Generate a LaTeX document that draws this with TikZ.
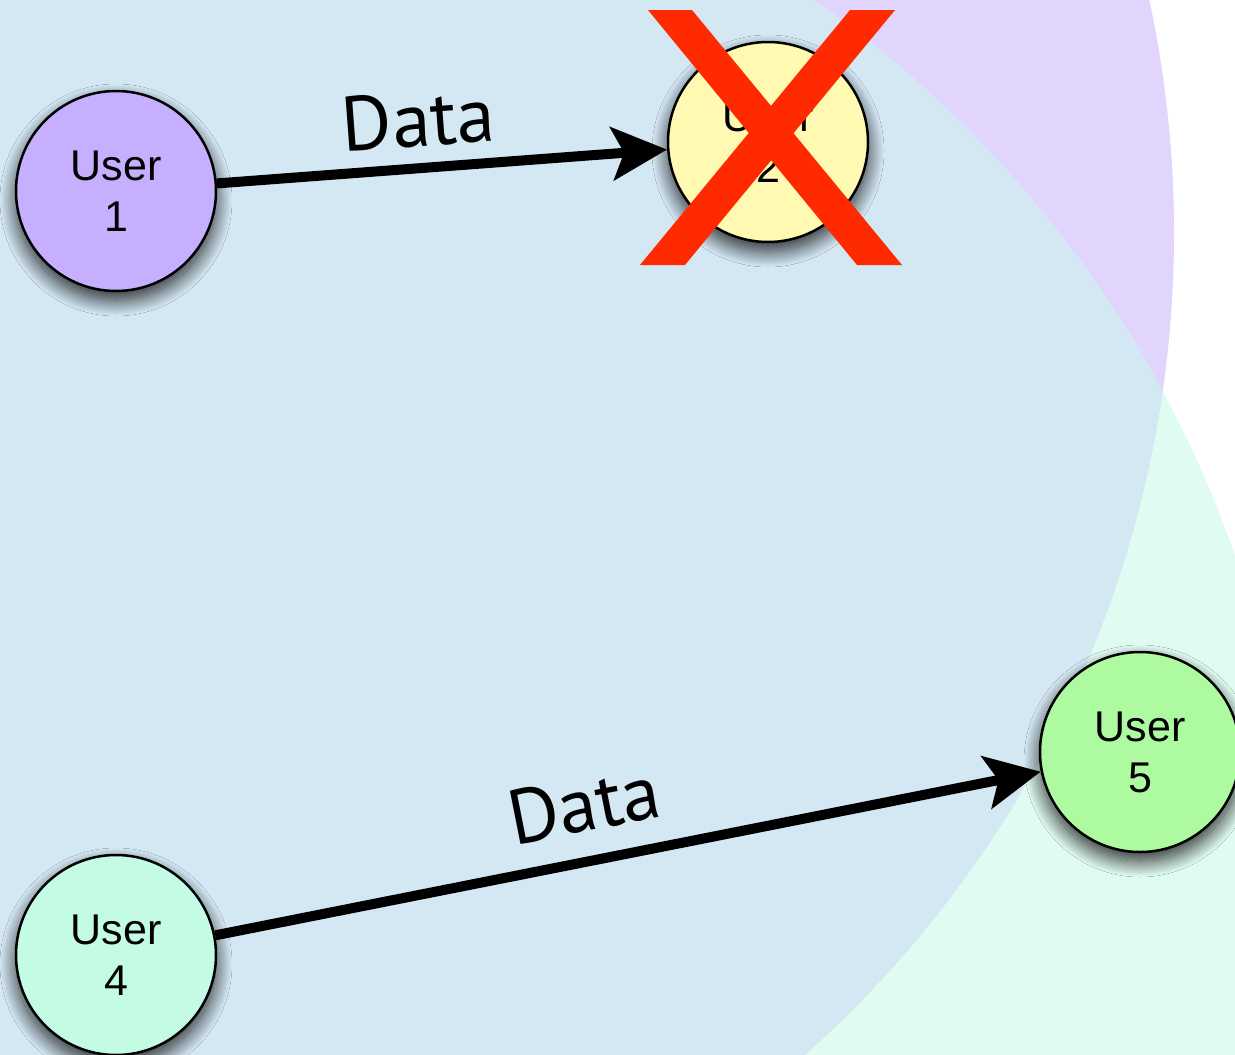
\documentclass[tikz,border=0pt]{standalone}
\usepackage{fontspec}
\setmainfont{Liberation Sans}
\newfontfamily\datafont{PT Sans}
\usetikzlibrary{arrows.meta,shadows.blur}
\definecolor{purplebg}{HTML}{E1D5FE}
\definecolor{greenbg}{HTML}{E0FCF2}
\definecolor{bluebg}{HTML}{D4E8F4}
\definecolor{userone}{HTML}{C6AFFE}
\definecolor{usertwo}{HTML}{FFF9B2}
\definecolor{userfour}{HTML}{C3FBE5}
\definecolor{userfive}{HTML}{AEFAA1}
\definecolor{crossred}{HTML}{FF2A00}
\tikzset{
  user/.style={circle, draw=black, line width=2.5pt, minimum size=200pt, inner sep=0pt,
    align=center, font=\fontsize{43}{51}\selectfont,
    blur shadow={shadow xshift=0pt, shadow yshift=-9pt, shadow blur radius=16pt,
      shadow blur steps=24, shadow opacity=85}},
  dataarrow/.style={line width=10pt, -{Stealth[length=55pt, width=53pt, inset=12pt]}},
  datalabel/.style={sloped, inner sep=2pt, font=\datafont\fontsize{77}{80}\selectfont},
  crossstroke/.style={fill=crossred}
}
\begin{document}
\begin{tikzpicture}[x=1pt,y=-1pt]
\useasboundingbox (0,0) rectangle (1235,1055);
\fill[white] (0,0) rectangle (1235,1055);
\fill[purplebg] (74,233) circle[radius=1100pt];
\fill[greenbg] (171,925) circle[radius=1126pt];
\begin{scope}
  \clip (74,233) circle[radius=1100pt];
  \fill[bluebg] (171,925) circle[radius=1126pt];
\end{scope}

\node[user, fill=userone] (u1) at (116,191) {User\\1};
\node[user, fill=usertwo] (u2) at (768,142) {User\\2};
\node[user, fill=userfour] (u4) at (116,955) {User\\4};
\node[user, fill=userfive] (u5) at (1140,752) {User\\5};

\draw[dataarrow] (u1) -- node[datalabel, above=14pt, pos=0.455] {Data} (u2);
\draw[dataarrow] (u4) -- node[datalabel, above=22pt, pos=0.46] {Data} (u5);

\fill[crossstroke] (648,10) -- (692,10) -- (902,265) -- (857,265) -- cycle;
\fill[crossstroke] (850,10) -- (895,10) -- (685,265) -- (640,265) -- cycle;
\end{tikzpicture}
\end{document}
